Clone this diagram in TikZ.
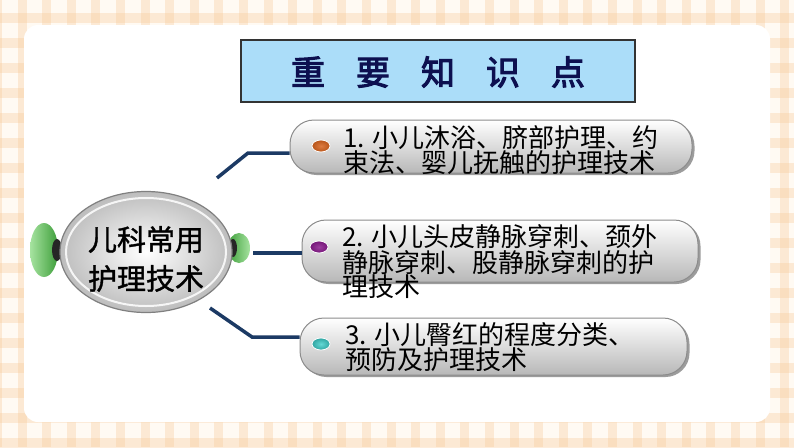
\documentclass[tikz,border=0pt]{standalone}
\usepackage{fontspec}
\newfontfamily\cjk{Noto Sans CJK SC}
\newfontfamily\cjkheavy{Noto Sans CJK SC}[FakeBold=3]
\newfontfamily\cjkmed{Noto Sans CJK SC}[FakeBold=1.2]
\usetikzlibrary{shadows,shapes.geometric}
\definecolor{gbase}{HTML}{FFFAF3}
\definecolor{gstripe}{HTML}{F8C996}
\definecolor{titleblue}{HTML}{ABDDF9}
\definecolor{titleink}{HTML}{0D1050}
\definecolor{linkblue}{HTML}{1C3A64}
\definecolor{ltgreen}{HTML}{A6E3A0}
\definecolor{dkgreen}{HTML}{3E9E3A}
\definecolor{bulorange}{HTML}{D8641E}
\definecolor{bulpurple}{HTML}{8A1A8E}
\definecolor{bulteal}{HTML}{3CCFCB}
\tikzset{
  stripe/.style={fill=gstripe, opacity=0.33},
  pill/.style={rectangle, rounded corners=24pt, inner sep=0pt,
    top color=white, middle color=black!3, bottom color=black!28,
    draw=black!45, line width=1pt,
    drop shadow={shadow xshift=2.5pt, shadow yshift=-2pt, fill=black!55, opacity=0.7}},
  itemtext/.style={anchor=west, align=left, inner sep=0pt,
    font=\cjk\fontsize{26}{23}\selectfont, text=black},
  link/.style={draw=linkblue, line width=3.5pt},
  bullet/.style={ellipse, minimum width=18pt, minimum height=12pt, inner sep=0pt,
    draw=white, line width=0.8pt}
}
\begin{document}
\begin{tikzpicture}[x=1pt,y=-1pt]
\useasboundingbox (0,0) rectangle (794,447);
% gingham background
\fill[gbase] (0,0) rectangle (794,447);
\foreach \i in {0,...,33} { \fill[stripe] ({-7+\i*24.6},0) rectangle ++(9,447); }
\foreach \j in {0,...,18} { \fill[stripe] (0,{-12+\j*25}) rectangle ++(794,10); }
% white panel
\fill[white, rounded corners=14pt] (24,25) rectangle (770,422);

% title
\node[draw=black!80, line width=1.2pt, fill=titleblue, minimum width=394pt,
      minimum height=62pt, inner sep=0pt] (title) at (438,71) {};
\node[text=titleink, font=\cjkheavy\fontsize{34}{34}\selectfont] (titletext) at (438,72)
  {重\hspace{31pt}要\hspace{31pt}知\hspace{31pt}识\hspace{31pt}点};

% green ears
\shade[left color=ltgreen, right color=dkgreen] (44,250) ellipse [x radius=14, y radius=27];
\fill[black!85] (57,250) ellipse [x radius=5, y radius=11];
\shade[left color=dkgreen, right color=ltgreen] (239,248) ellipse [x radius=11, y radius=15];
\fill[black!85] (233,248) ellipse [x radius=4, y radius=9];

% central ellipse
\node[ellipse, minimum width=172pt, minimum height=121pt, inner sep=0pt,
      inner color=white, outer color=black!26, draw=black!50, line width=1.2pt] (center) at (146,252) {};
\draw[white, line width=2pt, opacity=0.85] (146,252) ellipse [x radius=80, y radius=54];
\node[align=center, font=\cjkmed\fontsize{29}{39}\selectfont, text=black] (centertext) at (146,259)
  {儿科常用\\护理技术};

% item boxes
\node[pill, minimum width=402pt, minimum height=53pt] (b1) at (491,146.5) {};
\node[pill, minimum width=396pt, minimum height=62pt] (b2) at (500,251) {};
\node[pill, minimum width=387pt, minimum height=57pt] (b3) at (493.5,346.5) {};

\node[bullet, inner color=bulorange!85!white, outer color=bulorange!85!black] (d1) at (321,146) {};
\node[bullet, inner color=bulpurple!85!white, outer color=bulpurple!85!black] (d2) at (319,247) {};
\node[bullet, inner color=bulteal!80!white, outer color=bulteal!80!black] (d3) at (321,344) {};

\node[itemtext] (t1) at (343,150.5) {1. 小儿沐浴、脐部护理、约\\束法、婴儿抚触的护理技术};
\node[itemtext] (t2) at (342,262) {2. 小儿头皮静脉穿刺、颈外\\静脉穿刺、股静脉穿刺的护\\理技术};
\node[itemtext] (t3) at (345,347) {3. 小儿臀红的程度分类、\\预防及护理技术};

% connectors
\coordinate (l1a) at (217,178);
\coordinate (l1b) at (248,153);
\coordinate (l2a) at (253,253);
\coordinate (l3a) at (210,308);
\coordinate (l3b) at (252,337);
\draw[link] (l1a) -- (l1b) -- (l1b -| b1.west);
\draw[link] (l2a) -- (l2a -| b2.west);
\draw[link] (l3a) -- (l3b) -- (l3b -| b3.west);
\end{tikzpicture}
\end{document}
